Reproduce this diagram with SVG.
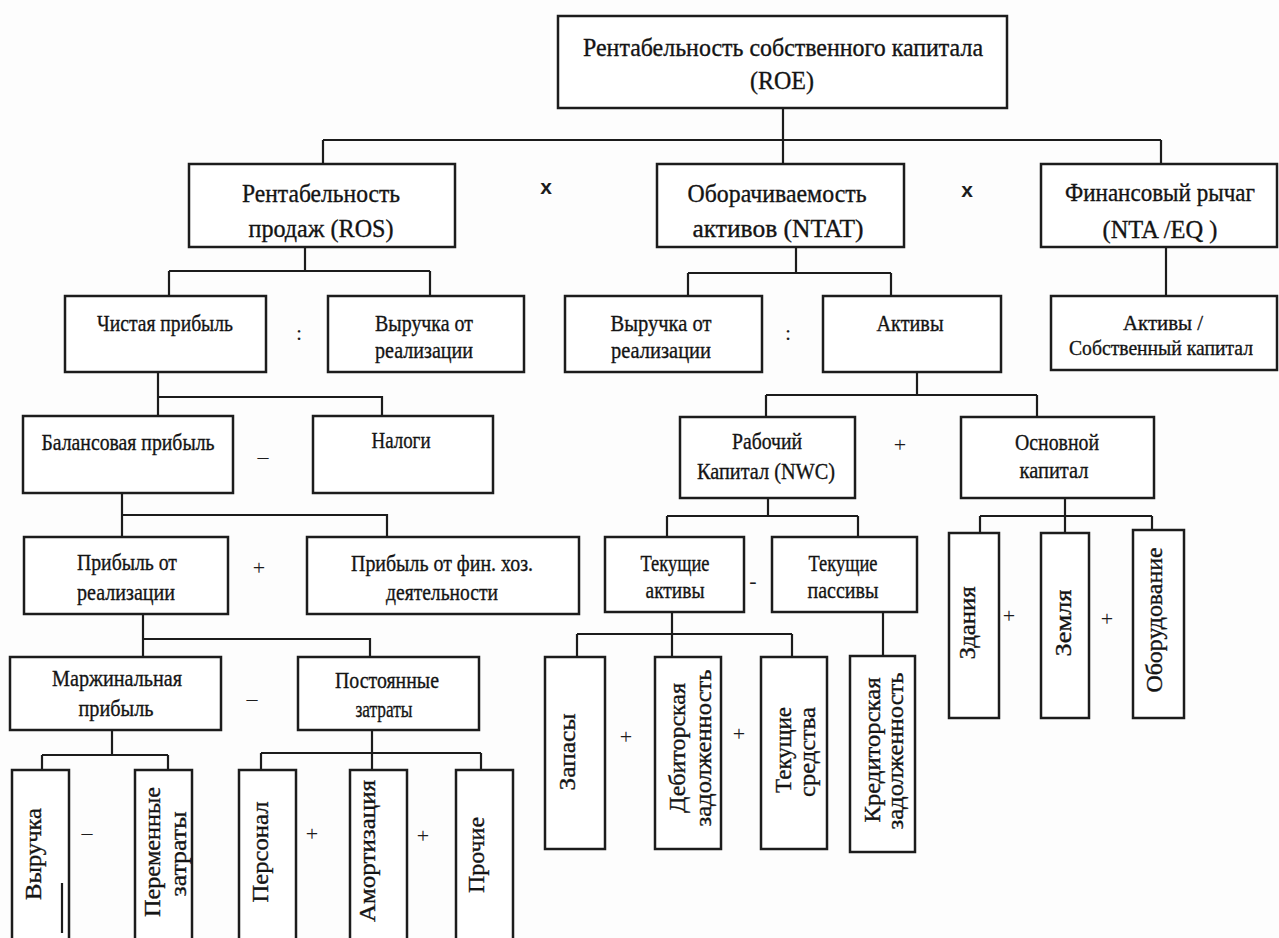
<svg xmlns="http://www.w3.org/2000/svg" width="1279" height="938" viewBox="0 0 1279 938">
<style>
.bg{fill:#fdfdfd}
.b{fill:#fff;stroke:#1c1c1c;stroke-width:2.5}
.c{fill:none;stroke:#1c1c1c;stroke-width:2.2}
.t{font-family:"Liberation Serif","Times New Roman",serif;font-size:24px;fill:#141414;stroke:#141414;stroke-width:0.35;text-anchor:middle}
.h{font-size:26px}
.s{font-size:22px}
.o{font-family:"Liberation Serif","Times New Roman",serif;font-size:22px;fill:#1c1c1c;text-anchor:middle}
.x{font-family:"Liberation Sans",Arial,sans-serif;font-size:21px;font-weight:bold;fill:#1c1c1c;text-anchor:middle}
</style>
<rect class="bg" x="0" y="0" width="1279" height="938"/>
<g id="connectors">
<path class="c" d="M783 108V164M323 140H1161M323 140V164M1161 140V164"/>
<path class="c" d="M305 247V271M169 271H430M169 271V296M430 271V296"/>
<path class="c" d="M796 247V273M688 273H891M688 273V296M891 273V296"/>
<path class="c" d="M1166 247V296"/>
<path class="c" d="M158 372V416M158 397H382V416"/>
<path class="c" d="M917 372V395M766 395H1037M766 395V417M1037 395V417"/>
<path class="c" d="M122 493V537M122 515H387V537"/>
<path class="c" d="M768 498V516M667 516H858M667 516V537M858 516V537"/>
<path class="c" d="M1065 498V533M980 516H1152M980 516V533M1152 516V530"/>
<path class="c" d="M143 614V657M143 639H370V657"/>
<path class="c" d="M672 612V657M577 634H792M577 634V657M792 634V657"/>
<path class="c" d="M883 612V656"/>
<path class="c" d="M112 730V755M42 755H168M42 755V770M168 755V770"/>
<path class="c" d="M372 730V770M261 753H481M261 753V770M481 753V770"/>
</g>
<g id="roe"><rect class="b" x="558" y="16" width="449" height="92"/>
<text class="t h" x="783" y="47" dy="0.35em" textLength="400" lengthAdjust="spacingAndGlyphs">Рентабельность собственного капитала</text>
<text class="t h" x="782" y="80" dy="0.35em" textLength="64" lengthAdjust="spacingAndGlyphs">(ROE)</text></g>
<g id="ros"><rect class="b" x="189" y="164" width="266" height="83"/>
<text class="t h" x="321" y="193" dy="0.35em" textLength="158" lengthAdjust="spacingAndGlyphs">Рентабельность</text>
<text class="t h" x="321" y="228" dy="0.35em" textLength="145" lengthAdjust="spacingAndGlyphs">продаж (ROS)</text></g>
<g id="ntat"><rect class="b" x="657" y="164" width="247" height="83"/>
<text class="t h" x="777" y="193" dy="0.35em" textLength="179" lengthAdjust="spacingAndGlyphs">Оборачиваемость</text>
<text class="t h" x="778" y="228" dy="0.35em" textLength="171" lengthAdjust="spacingAndGlyphs">активов (NTAT)</text></g>
<g id="fin"><rect class="b" x="1041" y="164" width="236" height="83"/>
<text class="t h" x="1160" y="192" dy="0.35em" textLength="190" lengthAdjust="spacingAndGlyphs">Финансовый рычаг</text>
<text class="t h" x="1160" y="229" dy="0.35em" textLength="115" lengthAdjust="spacingAndGlyphs">(NTA /EQ )</text></g>
<g id="np"><rect class="b" x="65" y="296" width="201" height="76"/>
<text class="t" x="165" y="323" dy="0.35em" textLength="136" lengthAdjust="spacingAndGlyphs">Чистая прибыль</text></g>
<g id="rev1"><rect class="b" x="328" y="296" width="196" height="76"/>
<text class="t" x="424" y="323" dy="0.35em" textLength="98" lengthAdjust="spacingAndGlyphs">Выручка от</text>
<text class="t" x="424" y="350" dy="0.35em" textLength="98" lengthAdjust="spacingAndGlyphs">реализации</text></g>
<g id="rev2"><rect class="b" x="565" y="296" width="197" height="76"/>
<text class="t" x="661" y="323" dy="0.35em" textLength="101" lengthAdjust="spacingAndGlyphs">Выручка от</text>
<text class="t" x="661" y="350" dy="0.35em" textLength="100" lengthAdjust="spacingAndGlyphs">реализации</text></g>
<g id="assets"><rect class="b" x="823" y="296" width="178" height="76"/>
<text class="t" x="910" y="323" dy="0.35em" textLength="67" lengthAdjust="spacingAndGlyphs">Активы</text></g>
<g id="assets-eq"><rect class="b" x="1051" y="296" width="226" height="74"/>
<text class="t s" x="1163" y="322" dy="0.35em" textLength="80" lengthAdjust="spacingAndGlyphs">Активы /</text>
<text class="t s" x="1161" y="347" dy="0.35em" textLength="184" lengthAdjust="spacingAndGlyphs">Собственный капитал</text></g>
<g id="bp"><rect class="b" x="23" y="416" width="210" height="77"/>
<text class="t" x="128" y="442" dy="0.35em" textLength="173" lengthAdjust="spacingAndGlyphs">Балансовая прибыль</text></g>
<g id="tax"><rect class="b" x="313" y="416" width="180" height="77"/>
<text class="t" x="401" y="440" dy="0.35em" textLength="59" lengthAdjust="spacingAndGlyphs">Налоги</text></g>
<g id="nwc"><rect class="b" x="680" y="417" width="175" height="81"/>
<text class="t" x="767" y="441" dy="0.35em" textLength="70" lengthAdjust="spacingAndGlyphs">Рабочий</text>
<text class="t" x="766" y="471" dy="0.35em" textLength="138" lengthAdjust="spacingAndGlyphs">Капитал (NWC)</text></g>
<g id="fixed"><rect class="b" x="961" y="417" width="193" height="81"/>
<text class="t" x="1057" y="442" dy="0.35em" textLength="84" lengthAdjust="spacingAndGlyphs">Основной</text>
<text class="t" x="1054" y="470" dy="0.35em" textLength="69" lengthAdjust="spacingAndGlyphs">капитал</text></g>
<g id="op"><rect class="b" x="24" y="537" width="204" height="77"/>
<text class="t" x="127" y="562" dy="0.35em" textLength="100" lengthAdjust="spacingAndGlyphs">Прибыль от</text>
<text class="t" x="126" y="592" dy="0.35em" textLength="98" lengthAdjust="spacingAndGlyphs">реализации</text></g>
<g id="fp"><rect class="b" x="307" y="537" width="272" height="77"/>
<text class="t" x="442" y="563" dy="0.35em" textLength="182" lengthAdjust="spacingAndGlyphs">Прибыль от фин. хоз.</text>
<text class="t" x="442" y="592" dy="0.35em" textLength="112" lengthAdjust="spacingAndGlyphs">деятельности</text></g>
<g id="ca"><rect class="b" x="605" y="537" width="139" height="75"/>
<text class="t" x="675" y="563" dy="0.35em" textLength="69" lengthAdjust="spacingAndGlyphs">Текущие</text>
<text class="t" x="675" y="590" dy="0.35em" textLength="59" lengthAdjust="spacingAndGlyphs">активы</text></g>
<g id="cl"><rect class="b" x="772" y="537" width="145" height="75"/>
<text class="t" x="843" y="563" dy="0.35em" textLength="69" lengthAdjust="spacingAndGlyphs">Текущие</text>
<text class="t" x="843" y="590" dy="0.35em" textLength="71" lengthAdjust="spacingAndGlyphs">пассивы</text></g>
<g id="mp"><rect class="b" x="10" y="657" width="211" height="73"/>
<text class="t" x="117" y="678" dy="0.35em" textLength="130" lengthAdjust="spacingAndGlyphs">Маржинальная</text>
<text class="t" x="116" y="708" dy="0.35em" textLength="75" lengthAdjust="spacingAndGlyphs">прибыль</text></g>
<g id="fc"><rect class="b" x="298" y="657" width="181" height="73"/>
<text class="t" x="387" y="680" dy="0.35em" textLength="104" lengthAdjust="spacingAndGlyphs">Постоянные</text>
<text class="t" x="384" y="709" dy="0.35em" textLength="57" lengthAdjust="spacingAndGlyphs">затраты</text></g>
<g id="bld"><rect class="b" x="949" y="533" width="50" height="185"/>
<text class="t" transform="translate(967 623) rotate(-90)" dy="0.35em" textLength="73" lengthAdjust="spacingAndGlyphs">Здания</text></g>
<g id="land"><rect class="b" x="1041" y="533" width="48" height="185"/>
<text class="t" transform="translate(1063 623) rotate(-90)" dy="0.35em" textLength="67" lengthAdjust="spacingAndGlyphs">Земля</text></g>
<g id="equip"><rect class="b" x="1133" y="530" width="51" height="188"/>
<text class="t" transform="translate(1154 620) rotate(-90)" dy="0.35em" textLength="145" lengthAdjust="spacingAndGlyphs">Оборудование</text></g>
<g id="inv"><rect class="b" x="545" y="657" width="60" height="192"/>
<text class="t" transform="translate(567 752) rotate(-90)" dy="0.35em" textLength="77" lengthAdjust="spacingAndGlyphs">Запасы</text></g>
<g id="ar"><rect class="b" x="655" y="657" width="66" height="192"/>
<text class="t" transform="translate(677 748) rotate(-90)" dy="0.35em" textLength="130" lengthAdjust="spacingAndGlyphs">Дебиторская</text>
<text class="t" transform="translate(703 748) rotate(-90)" dy="0.35em" textLength="157" lengthAdjust="spacingAndGlyphs">задолженность</text></g>
<g id="cash"><rect class="b" x="761" y="657" width="66" height="192"/>
<text class="t" transform="translate(783 750) rotate(-90)" dy="0.35em" textLength="86" lengthAdjust="spacingAndGlyphs">Текущие</text>
<text class="t" transform="translate(807 752) rotate(-90)" dy="0.35em" textLength="90" lengthAdjust="spacingAndGlyphs">средства</text></g>
<g id="ap"><rect class="b" x="850" y="656" width="65" height="196"/>
<text class="t" transform="translate(872 750) rotate(-90)" dy="0.35em" textLength="145" lengthAdjust="spacingAndGlyphs">Кредиторская</text>
<text class="t" transform="translate(895 751) rotate(-90)" dy="0.35em" textLength="157" lengthAdjust="spacingAndGlyphs">задолженность</text></g>
<g id="revenue"><rect class="b" x="12" y="770" width="57" height="180"/>
<path class="c" d="M62 883V933"/>
<text class="t" transform="translate(33 854) rotate(-90)" dy="0.35em" textLength="92" lengthAdjust="spacingAndGlyphs">Выручка</text></g>
<g id="vc"><rect class="b" x="135" y="770" width="57" height="180"/>
<text class="t" transform="translate(152 852) rotate(-90)" dy="0.35em" textLength="130" lengthAdjust="spacingAndGlyphs">Переменные</text>
<text class="t" transform="translate(178 854) rotate(-90)" dy="0.35em" textLength="85" lengthAdjust="spacingAndGlyphs">затраты</text></g>
<g id="staff"><rect class="b" x="239" y="770" width="57" height="180"/>
<text class="t" transform="translate(260 852) rotate(-90)" dy="0.35em" textLength="101" lengthAdjust="spacingAndGlyphs">Персонал</text></g>
<g id="amort"><rect class="b" x="350" y="770" width="57" height="180"/>
<text class="t" transform="translate(367 851) rotate(-90)" dy="0.35em" textLength="142" lengthAdjust="spacingAndGlyphs">Амортизация</text></g>
<g id="other"><rect class="b" x="456" y="770" width="57" height="180"/>
<text class="t" transform="translate(476 855) rotate(-90)" dy="0.35em" textLength="76" lengthAdjust="spacingAndGlyphs">Прочие</text></g>
<g id="operators">
<text class="x" x="546" y="188" dy="0.3em">x</text>
<text class="x" x="967" y="191" dy="0.3em">x</text>
<text class="o" x="299" y="332" dy="0.35em">:</text>
<text class="o" x="788" y="332" dy="0.35em">:</text>
<text class="o" x="263" y="456" dy="0.35em">–</text>
<text class="o" x="252" y="698" dy="0.35em">–</text>
<text class="o" x="87" y="832" dy="0.35em">–</text>
<text class="o" x="753" y="580" dy="0.35em">-</text>
<text class="o" x="259" y="567" dy="0.35em">+</text>
<text class="o" x="900" y="444" dy="0.35em">+</text>
<text class="o" x="312" y="833" dy="0.35em">+</text>
<text class="o" x="423" y="835" dy="0.35em">+</text>
<text class="o" x="626" y="736" dy="0.35em">+</text>
<text class="o" x="739" y="733" dy="0.35em">+</text>
<text class="o" x="1009" y="615" dy="0.35em">+</text>
<text class="o" x="1107" y="618" dy="0.35em">+</text>
</g>
</svg>
